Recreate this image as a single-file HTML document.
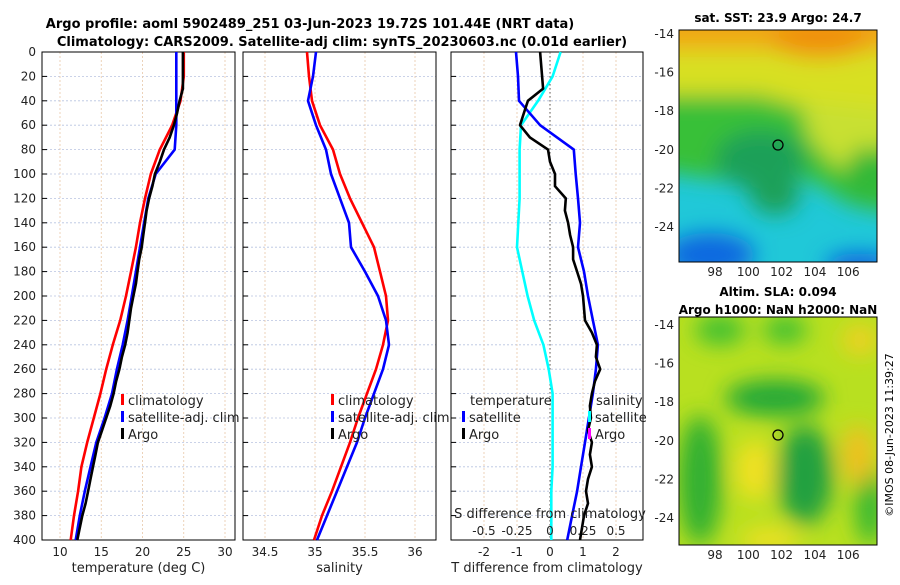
<!DOCTYPE html>
<html><head><meta charset="utf-8"><style>
body{margin:0;background:#fff;font-family:"Liberation Sans","DejaVu Sans",sans-serif}
svg text{font-family:"DejaVu Sans","Liberation Sans",sans-serif}
</style></head><body>
<svg id="c" width="900" height="580" xmlns="http://www.w3.org/2000/svg">
<defs>
<filter id="bl" filterUnits="userSpaceOnUse" x="600" y="0" width="300" height="580"><feGaussianBlur stdDeviation="11"/></filter>
<clipPath id="cm1"><rect x="679" y="30" width="198" height="232"/></clipPath>
<clipPath id="cm2"><rect x="679" y="317" width="198" height="228"/></clipPath>
</defs>
<text x="310" y="28" text-anchor="middle" font-size="13" font-weight="bold">Argo profile: aoml 5902489_251 03-Jun-2023 19.72S 101.44E (NRT data)</text>
<text x="342" y="46" text-anchor="middle" font-size="13" font-weight="bold">Climatology: CARS2009. Satellite-adj clim: synTS_20230603.nc (0.01d earlier)</text>
<g id="plots"></g>
<!-- top map -->
<g clip-path="url(#cm1)">
<rect x="679" y="30" width="198" height="232" fill="#20c8d8"/>
<g filter="url(#bl)">
<rect x="650" y="0" width="260" height="110" fill="#d8e020"/>
<rect x="650" y="0" width="260" height="50" fill="#f0a818"/>
<ellipse cx="820" cy="40" rx="50" ry="18" fill="#f09010"/>
<polygon points="650,95 760,95 830,115 860,130 900,125 900,215 850,205 810,180 770,175 720,180 650,170" fill="#38c038"/>
<polygon points="800,100 900,110 900,140 840,170 810,140" fill="#c8e030"/>
<ellipse cx="760" cy="160" rx="45" ry="30" fill="#1aa058"/>
<ellipse cx="775" cy="195" rx="25" ry="20" fill="#1aa058"/>
<ellipse cx="865" cy="175" rx="18" ry="28" fill="#30b838"/>
<ellipse cx="710" cy="255" rx="45" ry="22" fill="#1068e0"/>
<ellipse cx="860" cy="265" rx="35" ry="12" fill="#1060e0"/>
</g></g>
<rect x="679" y="30" width="198" height="232" fill="none" stroke="#000"/>
<circle cx="778" cy="145" r="5" fill="none" stroke="#000" stroke-width="1.3"/>
<text x="778" y="22" text-anchor="middle" font-size="12" font-weight="bold">sat. SST: 23.9 Argo: 24.7</text>
<!-- bottom map -->
<g clip-path="url(#cm2)">
<rect x="679" y="317" width="198" height="228" fill="#b8e020"/>
<g filter="url(#bl)">
<ellipse cx="720" cy="330" rx="25" ry="15" fill="#40c030"/>
<ellipse cx="785" cy="330" rx="22" ry="14" fill="#40c030"/>
<ellipse cx="775" cy="398" rx="50" ry="18" fill="#20a838"/>
<ellipse cx="700" cy="480" rx="22" ry="65" fill="#30b030"/>
<ellipse cx="805" cy="475" rx="28" ry="50" fill="#20a040"/>
<ellipse cx="870" cy="505" rx="15" ry="40" fill="#38b830"/>
<ellipse cx="860" cy="340" rx="18" ry="15" fill="#f0d020"/>
<ellipse cx="858" cy="455" rx="16" ry="30" fill="#f0c020"/>
<ellipse cx="755" cy="470" rx="20" ry="30" fill="#f0e020"/>
<ellipse cx="770" cy="540" rx="30" ry="12" fill="#f0e020"/>
</g></g>
<rect x="679" y="317" width="198" height="228" fill="none" stroke="#000"/>
<circle cx="778" cy="435" r="5" fill="none" stroke="#000" stroke-width="1.3"/>
<text x="778" y="296" text-anchor="middle" font-size="12" font-weight="bold">Altim. SLA: 0.094</text>
<text x="778" y="314" text-anchor="middle" font-size="12" font-weight="bold">Argo h1000: NaN h2000: NaN</text>
<text transform="translate(893,435) rotate(-90)" text-anchor="middle" font-size="11">©IMOS 08-Jun-2023 11:39:27</text>
</svg>
<script>
const depths=[0,20,40,60,80,100,120,140,160,180,200,220,240,260,280,300,320,340,360,380,400];
const argoDepths=[0,10,20,30,40,50,60,70,80,90,100,110,120,130,140,150,160,170,180,190,200,210,220,230,240,250,260,270,280,290,300,310,320,330,340,350,360,370,380,390,400];
const tempClim=[25,25,24.6,23.6,22.1,21,20.3,19.7,19.2,18.6,18,17.3,16.4,15.6,14.9,14.1,13.3,12.6,12.2,11.7,11.3];
const tempSat=[24.1,24.1,24.1,24.1,23.9,21.6,20.7,20.2,19.7,19.2,18.7,18.2,17.6,16.9,16.3,15.4,14.4,13.7,13.0,12.4,11.9];
const tempArgo=[24.9,24.9,24.9,24.9,24.5,24.2,23.8,23.3,22.6,22.1,21.5,21.2,20.8,20.5,20.3,20.1,19.9,19.6,19.4,19.2,18.9,18.6,18.4,18.2,17.9,17.5,17.2,16.8,16.5,16.1,15.6,15.1,14.6,14.3,14.0,13.7,13.4,13.1,12.7,12.4,12.1];
const salClim=[34.92,34.94,34.97,35.05,35.18,35.25,35.35,35.47,35.59,35.65,35.71,35.73,35.68,35.61,35.52,35.43,35.35,35.26,35.17,35.07,34.99];
const salSat=[35.01,34.98,34.93,35.01,35.11,35.16,35.25,35.34,35.36,35.5,35.63,35.71,35.74,35.68,35.59,35.5,35.42,35.32,35.22,35.12,35.02];
const tdiffSat=[-1.03,-0.97,-0.94,-0.3,0.72,0.78,0.85,0.91,0.85,1.03,1.15,1.3,1.45,1.39,1.3,1.18,1.06,0.94,0.82,0.67,0.52];
const tdiffArgo=[-0.3,-0.27,-0.24,-0.21,-0.67,-0.79,-0.91,-0.61,-0.06,0,0.15,0.15,0.48,0.45,0.55,0.61,0.7,0.7,0.82,0.94,1.0,1.03,1.06,1.27,1.42,1.39,1.52,1.36,1.27,1.21,1.24,1.15,1.27,1.21,1.27,1.15,1.09,1.15,1.03,0.97,0.91];
const sdiffSat=[0.08,0.02,-0.09,-0.22,-0.23,-0.23,-0.23,-0.24,-0.25,-0.21,-0.17,-0.12,-0.05,-0.01,0.02,0.02,0.02,0.02,0.01,0.01,0.01];
const yTicks=[0,20,40,60,80,100,120,140,160,180,200,220,240,260,280,300,320,340,360,380,400];
const NS='http://www.w3.org/2000/svg';
const g=document.getElementById('plots');
function el(t,a,p){const e=document.createElementNS(NS,t);for(const k in a)e.setAttribute(k,a[k]);(p||g).appendChild(e);return e;}
const Y=d=>52+d*488/400;
const panels=[
 {x0:42,x1:235,f:v=>60+(v-10)*8.25,ticks:[10,15,20,25,30],lbl:'temperature (deg C)',name:'temperature-panel'},
 {x0:243,x1:436,f:v=>315+(v-35)*100,ticks:[34.5,35,35.5,36],lbl:'salinity',name:'salinity-panel'},
 {x0:451,x1:643,f:v=>550+v*33,ticks:[-2,-1,0,1,2],lbl:'T difference from climatology',name:'difference-panel'}];
panels.forEach((p,i)=>{
 const grp=el('g',{});
 
 
 yTicks.forEach(d=>{const l=el('line',{x1:p.x0,x2:p.x1,y1:Y(d),y2:Y(d),stroke:'#b8c4e0','stroke-dasharray':'2,2','stroke-width':0.8},grp);
  const t=el('line',{x1:p.x0,x2:p.x0+5,y1:Y(d),y2:Y(d),stroke:'#000'},grp);
  if(i==0){const tx=el('text',{x:p.x0-6,y:Y(d)+4,'text-anchor':'end','font-size':12,fill:'#222'},grp);tx.textContent=d;}});
 p.ticks.forEach(v=>{const x=p.f(v);
  const l=el('line',{x1:x,x2:x,y1:52,y2:540,stroke:'#e8c8a8','stroke-dasharray':'2,2','stroke-width':0.8},grp);
  const tx=el('text',{x:x,y:556,'text-anchor':'middle','font-size':12,fill:'#222'},grp);tx.textContent=v;});
 const r=el('rect',{x:p.x0,y:52,width:p.x1-p.x0,height:488,fill:'none',stroke:'#000'},grp);
 const xl=el('text',{x:(p.x0+p.x1)/2,y:572,'text-anchor':'middle','font-size':13,fill:'#222'},grp);xl.textContent=p.lbl;
});
const zl=el('line',{x1:550,x2:550,y1:52,y2:540,stroke:'#555','stroke-dasharray':'1.5,2.5'});

function line(vals,dep,f,col,name,w){const pts=vals.map((v,i)=>f(v).toFixed(1)+','+Y(dep[i]).toFixed(1)).join(' ');
 const e=el('polyline',{points:pts,fill:'none',stroke:col,'stroke-width':w||2.6,'stroke-linejoin':'round'});
 }
const P=panels;
line(tempClim,depths,P[0].f,'#f00','temp-climatology-line');
line(tempSat,depths,P[0].f,'#00f','temp-satellite-line');
line(tempArgo,argoDepths,P[0].f,'#000','temp-argo-line');
line(salClim,depths,P[1].f,'#f00','sal-climatology-line');
line(salSat,depths,P[1].f,'#00f','sal-satellite-line');
line(sdiffSat,depths,v=>550+v*132,'#0ff','sdiff-satellite-line');
line(tdiffSat,depths,P[2].f,'#00f','tdiff-satellite-line');
line(tdiffArgo,argoDepths,P[2].f,'#000','tdiff-argo-line');
function leg(x,y,col,txt,name){
 if(col){const m=el('rect',{x:x,y:y-11,width:3,height:11,fill:col});}
 const t=el('text',{x:x+7,y:y,'font-size':13,fill:'#222'});t.textContent=txt;}
leg(121,405,'#f00','climatology','legend-climatology');
leg(121,422,'#00f','satellite-adj. clim','legend-satellite');
leg(121,439,'#000','Argo','legend-argo');
leg(331,405,'#f00','climatology','legend-sal-climatology');
leg(331,422,'#00f','satellite-adj. clim','legend-sal-satellite');
leg(331,439,'#000','Argo','legend-sal-argo');
leg(463,405,null,'temperature','legend-temperature-header');
leg(462,422,'#00f','satellite','legend-tdiff-satellite');
leg(462,439,'#000','Argo','legend-tdiff-argo');
leg(589,405,null,'salinity','legend-salinity-header');
leg(588,422,'#0ff','satellite','legend-sdiff-satellite');
leg(588,439,'#f0f','Argo','legend-sdiff-argo');
const sTicks=[-0.5,-0.25,0,0.25,0.5];
const st=el('text',{x:550,y:518,'text-anchor':'middle','font-size':13,fill:'#222'});st.textContent='S difference from climatology';

sTicks.forEach(v=>{const t=el('text',{x:550+v*132,y:535,'text-anchor':'middle','font-size':12,fill:'#222'});t.textContent=v;
 });
const lons=[98,100,102,104,106], lats=[-14,-16,-18,-20,-22,-24];
const LX=v=>715+(v-98)*16.65;
[[30,262,34],[317,545,325]].forEach(([t,b,l0],mi)=>{
 lons.forEach(v=>{const tx=el('text',{x:LX(v),y:b+14,'text-anchor':'middle','font-size':12,fill:'#222'});tx.textContent=v;
  el('line',{x1:LX(v),x2:LX(v),y1:b,y2:b-4,stroke:'#000'});});
 lats.forEach(v=>{const y=l0+(-14-v)*19.3;const tx=el('text',{x:674,y:y+4,'text-anchor':'end','font-size':12,fill:'#222'});tx.textContent=v;
  el('line',{x1:679,x2:683,y1:y,y2:y,stroke:'#000'});});
});
</script>
</body></html>
